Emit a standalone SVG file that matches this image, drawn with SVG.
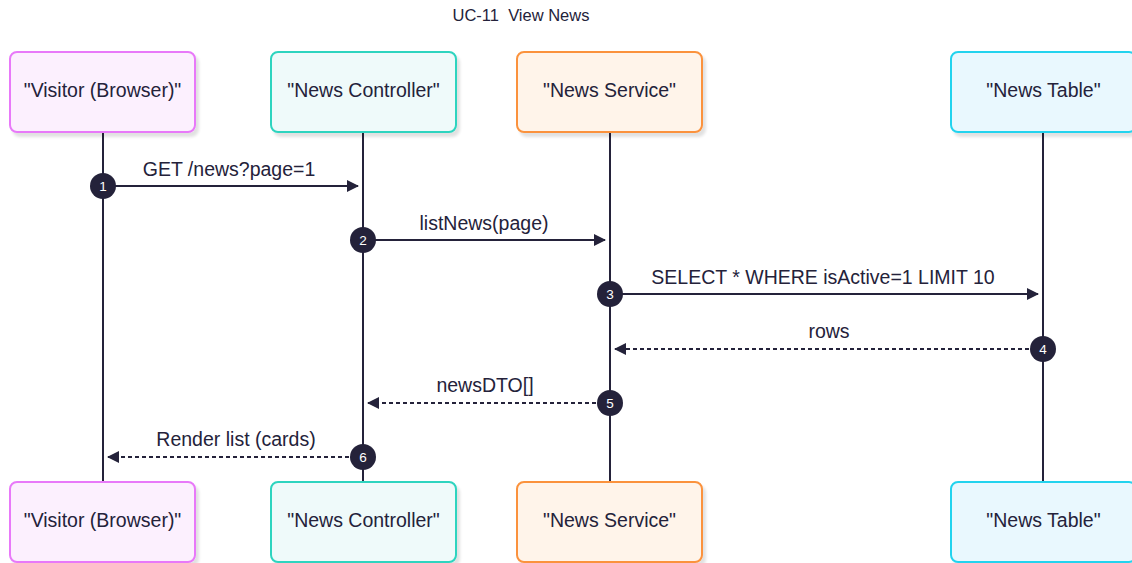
<svg xmlns="http://www.w3.org/2000/svg" width="1132" height="563" viewBox="0 0 1132 563">
<defs>
<marker id="arr" viewBox="0 0 12 12" refX="11" refY="6" markerWidth="12" markerHeight="12" markerUnits="userSpaceOnUse" orient="auto">
<path d="M0,0 L12,6 L0,12 z" fill="#24223a"/>
</marker>
<filter id="sh" x="-10%" y="-10%" width="130%" height="130%">
<feOffset dx="3" dy="4" in="SourceAlpha" result="o"/>
<feGaussianBlur in="o" stdDeviation="1.5" result="b"/>
<feComponentTransfer in="b" result="c"><feFuncA type="linear" slope="0.12"/></feComponentTransfer>
<feMerge><feMergeNode in="c"/><feMergeNode in="SourceGraphic"/></feMerge>
</filter>
</defs>
<style>
text{font-family:"Liberation Sans",Arial,sans-serif;fill:#24223a}
.box{stroke-width:2;filter:url(#sh)}
.lbl{font-size:19.5px;text-anchor:middle}
.msg{font-size:19.5px;text-anchor:middle}
.life{stroke:#24223a;stroke-width:2}
.line{stroke:#24223a;stroke-width:2;fill:none;marker-end:url(#arr)}
.dash{stroke-dasharray:4 3}
.num circle{fill:#24223a}
.num text{fill:#ffffff;font-size:13.5px;text-anchor:middle}
.v{fill:#fcf0fe;stroke:#e879f9}
.c{fill:#effafa;stroke:#2dd4bf}
.s{fill:#fff4ea;stroke:#fb923c}
.t{fill:#e9f8fe;stroke:#22d3ee}
</style>
<rect width="1132" height="563" fill="#ffffff"/>
<text x="521" y="21" style="font-size:16.5px;text-anchor:middle">UC-11&#160; View News</text>
<g id="lifelines">
<line class="life" x1="103" y1="132" x2="103" y2="482"/>
<line class="life" x1="363" y1="132" x2="363" y2="482"/>
<line class="life" x1="610" y1="132" x2="610" y2="482"/>
<line class="life" x1="1043" y1="132" x2="1043" y2="482"/>
</g>
<g id="visitor">
<rect class="box v" x="10" y="52" width="185" height="80" rx="7"/>
<text class="lbl" x="102.5" y="97">"Visitor (Browser)"</text>
</g>
<g id="controller">
<rect class="box c" x="271" y="52" width="185" height="80" rx="7"/>
<text class="lbl" x="363.5" y="97">"News Controller"</text>
</g>
<g id="service">
<rect class="box s" x="517" y="52" width="185" height="80" rx="7"/>
<text class="lbl" x="609.5" y="97">"News Service"</text>
</g>
<g id="table">
<rect class="box t" x="951" y="52" width="185" height="80" rx="7"/>
<text class="lbl" x="1043.5" y="97">"News Table"</text>
</g>
<g id="visitor-bottom">
<rect class="box v" x="10" y="482" width="185" height="80" rx="7"/>
<text class="lbl" x="102.5" y="527">"Visitor (Browser)"</text>
</g>
<g id="controller-bottom">
<rect class="box c" x="271" y="482" width="185" height="80" rx="7"/>
<text class="lbl" x="363.5" y="527">"News Controller"</text>
</g>
<g id="service-bottom">
<rect class="box s" x="517" y="482" width="185" height="80" rx="7"/>
<text class="lbl" x="609.5" y="527">"News Service"</text>
</g>
<g id="table-bottom">
<rect class="box t" x="951" y="482" width="185" height="80" rx="7"/>
<text class="lbl" x="1043.5" y="527">"News Table"</text>
</g>
<g id="connectors">
<line class="line" x1="103" y1="186" x2="358" y2="186"/>
<text class="msg" x="229" y="176">GET /news?page=1</text>
<line class="line" x1="363" y1="240" x2="605" y2="240"/>
<text class="msg" x="484" y="230">listNews(page)</text>
<line class="line" x1="610" y1="294" x2="1038" y2="294"/>
<text class="msg" x="823" y="284">SELECT * WHERE isActive=1 LIMIT 10</text>
<line class="line dash" x1="1043" y1="349" x2="615" y2="349"/>
<text class="msg" x="829" y="338">rows</text>
<line class="line dash" x1="610" y1="403" x2="368" y2="403"/>
<text class="msg" x="485" y="392">newsDTO[]</text>
<line class="line dash" x1="363" y1="457" x2="108" y2="457"/>
<text class="msg" x="236" y="446">Render list (cards)</text>
</g>
<g id="numbers" class="num">
<circle cx="103" cy="186" r="13"/><text x="103" y="191">1</text>
<circle cx="363" cy="240" r="13"/><text x="363" y="245">2</text>
<circle cx="610" cy="294" r="13"/><text x="610" y="299">3</text>
<circle cx="1043" cy="349" r="13"/><text x="1043" y="354">4</text>
<circle cx="610" cy="403" r="13"/><text x="610" y="408">5</text>
<circle cx="363" cy="457" r="13"/><text x="363" y="462">6</text>
</g>
</svg>
